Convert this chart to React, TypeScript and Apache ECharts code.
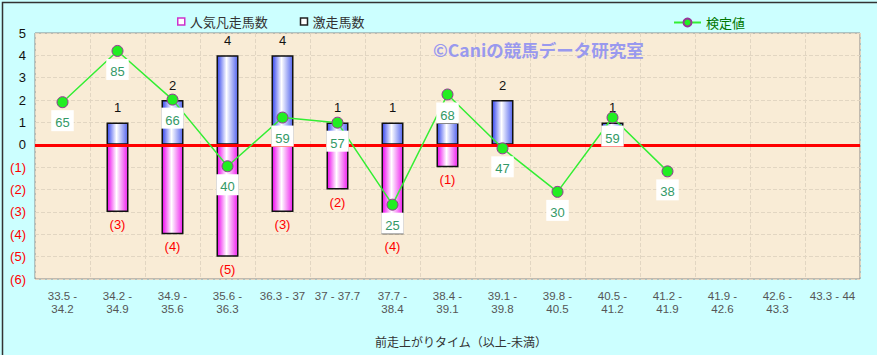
import React, { useEffect, useRef } from 'react';
import * as echarts from 'echarts';

const categories = [
  '33.5 -\n34.2', '34.2 -\n34.9', '34.9 -\n35.6', '35.6 -\n36.3', '36.3 - 37',
  '37 - 37.7', '37.7 -\n38.4', '38.4 -\n39.1', '39.1 -\n39.8', '39.8 -\n40.5',
  '40.5 -\n41.2', '41.2 -\n41.9', '41.9 -\n42.6', '42.6 -\n43.3', '43.3 - 44',
];
const gekisouCounts = [0, 1, 2, 4, 4, 1, 1, 1, 2, 0, 1, 0, 0, 0, 0];
const bonsouCounts = [0, 3, 4, 5, 3, 2, 4, 1, 0, 0, 0, 0, 0, 0, 0];
const kenteiValues: (number | null)[] = [65, 85, 66, 40, 59, 57, 25, 68, 47, 30, 59, 38, null, null, null];
const yMin = -6;
const yMax = 5;

const FONT = '"Liberation Sans", "Noto Sans CJK JP", sans-serif';
const JFONT = '"Noto Sans CJK JP", "Liberation Sans", sans-serif';

export default function App() {
  const ref = useRef<HTMLDivElement>(null);
  useEffect(() => {
    if (!ref.current) return;
    const chart = echarts.init(ref.current, undefined, { renderer: 'svg' });
    const blueGrad = new echarts.graphic.LinearGradient(0, 0, 1, 0, [
      { offset: 0, color: '#3344ee' },
      { offset: 0.45, color: '#ffffff' },
      { offset: 1, color: '#5566ee' },
    ]);
    const pinkGrad = new echarts.graphic.LinearGradient(0, 0, 1, 0, [
      { offset: 0, color: '#ee00ee' },
      { offset: 0.45, color: '#ffffff' },
      { offset: 1, color: '#ee22ee' },
    ]);
    const gridLine = { show: true, lineStyle: { color: '#e2d6c2', type: 'dashed', width: 1 } };
    chart.setOption({
      animation: false,
      backgroundColor: '#ccffff',
      textStyle: { fontFamily: FONT },
      grid: {
        left: 35, right: 17, top: 33, bottom: 76,
        show: true, backgroundColor: '#f9ecd6', borderColor: '#888888', borderWidth: 1,
      },
      legend: [
        {
          left: 172, top: 10, itemWidth: 7, itemHeight: 7, itemGap: 32, icon: 'rect',
          textStyle: { fontSize: 13, color: '#333333', fontFamily: JFONT },
          data: [
            { name: '人気凡走馬数', itemStyle: { color: '#ffffff', borderColor: '#cc33cc', borderWidth: 1.5 } },
            { name: '激走馬数', itemStyle: { color: '#ffffff', borderColor: '#222222', borderWidth: 1.5 } },
          ],
        },
        {
          left: 668, top: 11, itemWidth: 27, itemHeight: 10, itemGap: 4,
          textStyle: { fontSize: 13, color: '#007700', fontFamily: JFONT },
          data: ['検定値'],
        },
      ],
      xAxis: {
        type: 'category',
        data: categories,
        axisLine: { show: false },
        axisTick: { show: false },
        axisLabel: { interval: 0, fontSize: 11.5, color: '#555555', lineHeight: 13, margin: 10 },
        splitLine: gridLine,
      },
      yAxis: [
        {
          type: 'value', min: yMin, max: yMax, interval: 1,
          axisLine: { show: false }, axisTick: { show: false },
          splitLine: gridLine,
          axisLabel: {
            margin: 9,
            formatter: (v: number) => (v < 0 ? `{neg|(${-v})}` : `{pos|${v}}`),
            rich: {
              neg: { color: '#ff0000', fontSize: 13, fontFamily: FONT },
              pos: { color: '#111111', fontSize: 13, fontFamily: FONT },
            },
          },
        },
        { type: 'value', min: -4, max: 92, show: false, splitLine: { show: false } },
      ],
      series: [
        {
          name: '人気凡走馬数',
          type: 'bar',
          barWidth: 22,
          barGap: '-100%',
          z: 2,
          data: bonsouCounts.map((v) => (v ? -v : '-')),
          itemStyle: { color: pinkGrad, borderColor: '#111111', borderWidth: 1.5 },
          label: {
            show: true, position: 'bottom', distance: 6, color: '#ff0000', fontSize: 13,
            formatter: (p: any) => `(${-p.value})`,
          },
          markLine: {
            silent: true, symbol: 'none', label: { show: false },
            lineStyle: { color: '#ff0000', width: 3, type: 'solid' },
            data: [{ yAxis: 0 }],
          },
        },
        {
          name: '激走馬数',
          type: 'bar',
          barWidth: 22,
          barGap: '-100%',
          z: 2,
          data: gekisouCounts.map((v) => (v ? v : '-')),
          itemStyle: { color: blueGrad, borderColor: '#111111', borderWidth: 1.5 },
          label: { show: true, position: 'top', distance: 8, color: '#111111', fontSize: 13 },
        },
        {
          name: '検定値',
          type: 'line',
          yAxisIndex: 1,
          data: kenteiValues,
          symbol: 'circle',
          symbolSize: 11,
          lineStyle: { color: '#33ee33', width: 1.5 },
          itemStyle: { color: '#22ee22', borderColor: '#993399', borderWidth: 1 },
          label: {
            show: true, position: 'bottom', distance: 2, color: '#339966', fontSize: 13,
            backgroundColor: '#ffffff', padding: [6, 4, 2, 4],
          },
          z: 10,
          zlevel: 1,
        },
      ],
      graphic: [
        {
          type: 'text', left: 433, top: 41,
          style: { text: '©Caniの競馬データ研究室', fill: '#9999ee', font: `bold 17.5px ${JFONT}` },
          z: 1,
        },
        {
          type: 'text', left: 375, top: 335,
          style: { text: '前走上がりタイム（以上-未満）', fill: '#333333', font: `12px ${JFONT}` },
        },
        {
          type: 'rect', left: 0, top: 0,
          shape: { x: 0, y: 0, width: 876, height: 354 },
          style: { fill: 'none', stroke: '#333333', lineWidth: 1.5 },
          silent: true,
        },
      ],
    });
    return () => chart.dispose();
  }, []);
  return (
    <div
      ref={ref}
      style={{ position: 'fixed', left: 0, top: 0, width: 877, height: 355 }}
    />
  );
}
